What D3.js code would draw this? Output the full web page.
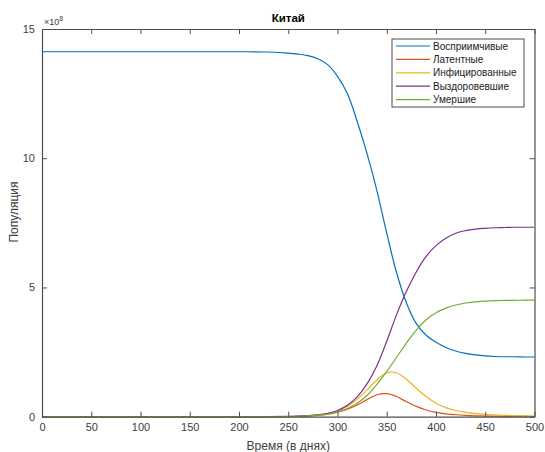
<!DOCTYPE html>
<html>
<head>
<meta charset="utf-8">
<script src="https://cdnjs.cloudflare.com/ajax/libs/d3/7.8.5/d3.min.js"></script>
<style>
  body { margin: 0; background: #fff; }
  text { font-family: "Liberation Sans", Arial, sans-serif; }
</style>
</head>
<body>
<script>
// days and values (x 1e8)
var days = [0, 50, 100, 150, 200, 230, 250, 260, 270, 280, 290, 300, 310, 320, 330, 340, 350, 360,
            370, 380, 390, 400, 410, 420, 430, 440, 450, 460, 470, 480, 490, 500];
var susceptible = [14.12, 14.12, 14.12, 14.12, 14.12, 14.11, 14.07, 14.03, 13.97, 13.85, 13.62, 13.17, 12.5, 11.42, 10.18, 8.75, 7.1, 5.57,
                   4.4, 3.6, 3.15, 2.88, 2.68, 2.54, 2.45, 2.39, 2.35, 2.33, 2.32, 2.32, 2.31, 2.31];
var latent = [0, 0, 0, 0, 0, 0.001, 0.005, 0.012, 0.025, 0.05, 0.1, 0.18, 0.29, 0.45, 0.66, 0.85, 0.89, 0.78,
              0.58, 0.4, 0.26, 0.17, 0.11, 0.075, 0.05, 0.035, 0.025, 0.02, 0.015, 0.012, 0.01, 0.008];
var infected = [0, 0, 0, 0, 0, 0.001, 0.005, 0.015, 0.03, 0.06, 0.12, 0.22, 0.4, 0.68, 1.04, 1.42, 1.7, 1.7,
                1.45, 1.1, 0.78, 0.52, 0.35, 0.24, 0.17, 0.12, 0.09, 0.07, 0.05, 0.04, 0.03, 0.025];
var recovered = [0, 0, 0, 0, 0, 0.003, 0.01, 0.022, 0.04, 0.07, 0.13, 0.24, 0.44, 0.77, 1.27, 1.97, 2.92, 3.95,
                 4.85, 5.6, 6.2, 6.62, 6.9, 7.1, 7.2, 7.26, 7.29, 7.31, 7.32, 7.33, 7.33, 7.33];
var dead = [0, 0, 0, 0, 0, 0.001, 0.005, 0.015, 0.03, 0.06, 0.1, 0.18, 0.32, 0.52, 0.82, 1.25, 1.75, 2.3,
            2.85, 3.35, 3.75, 4.02, 4.2, 4.32, 4.4, 4.44, 4.47, 4.49, 4.5, 4.5, 4.51, 4.51];

var seriesNames = ["Восприимчивые", "Латентные", "Инфицированные", "Выздоровевшие", "Умершие"];
var seriesColors = ["#0072BD", "#D95319", "#EDB120", "#7E2F8E", "#77AC30"];
var xTicks = [0, 50, 100, 150, 200, 250, 300, 350, 400, 450, 500];
var yTicks = [0, 5, 10, 15];

var w = 545, h = 452;
var margin = {top: 29, right: 10, bottom: 35, left: 42};
var iw = 534.5 - margin.left, ih = 416.7 - margin.top;

var svg = d3.select("body").append("svg")
  .attr("width", w).attr("height", h);

var x = d3.scaleLinear().domain([0, 500]).range([margin.left, margin.left + iw]);
var y = d3.scaleLinear().domain([0, 15]).range([margin.top + ih, margin.top]);

var axisColor = "#4d4d4d", textColor = "#404040";

// lines
var all = [susceptible, latent, infected, recovered, dead];
var line = d3.line()
  .x(function(d, i){ return x(days[i]); })
  .y(function(d){ return y(Math.max(0, d)); })
  .curve(d3.curveCatmullRom.alpha(0.5));

var plot = svg.append("g");
all.forEach(function(s, k){
  plot.append("path")
    .attr("d", line(s))
    .attr("fill", "none")
    .attr("stroke", seriesColors[k])
    .attr("stroke-width", 1.2);
});

// axes
var xa = svg.append("g").attr("transform", "translate(0," + y(0) + ")")
  .call(d3.axisBottom(x).tickValues(xTicks).tickSizeInner(-5).tickSizeOuter(0).tickPadding(7));
var xt = svg.append("g").attr("transform", "translate(0," + y(15) + ")")
  .call(d3.axisTop(x).tickValues(xTicks).tickSizeInner(-5).tickSizeOuter(0).tickFormat(""));
var ya = svg.append("g").attr("transform", "translate(" + x(0) + ",0)")
  .call(d3.axisLeft(y).tickValues(yTicks).tickSizeInner(-5).tickSizeOuter(0).tickPadding(7));
var yr = svg.append("g").attr("transform", "translate(" + x(500) + ",0)")
  .call(d3.axisRight(y).tickValues(yTicks).tickSizeInner(-5).tickSizeOuter(0).tickFormat(""));

[xa, xt, ya, yr].forEach(function(g){
  g.select(".domain").attr("stroke", axisColor).attr("stroke-width", 1.2);
  g.selectAll(".tick line").attr("stroke", axisColor);
  g.selectAll(".tick text").attr("fill", textColor)
    .style("font-family", "'Liberation Sans', Arial, sans-serif").style("font-size", "11px");
});

// exponent label
var ex = svg.append("text").attr("x", x(0) + 2).attr("y", y(15) - 4)
  .attr("fill", textColor).style("font-size", "9px");
ex.append("tspan").text("×10");
ex.append("tspan").attr("dy", -4).style("font-size", "7px").text("8");

// title
svg.append("text").attr("x", x(250)).attr("y", 22)
  .attr("text-anchor", "middle").attr("fill", "#000")
  .style("font-size", "11.5px").style("font-weight", "bold").text("Китай");

// axis labels
svg.append("text").attr("x", x(250)).attr("y", 450)
  .attr("text-anchor", "middle").attr("fill", textColor)
  .style("font-size", "12px").text("Время (в днях)");
svg.append("text").attr("transform", "translate(18," + 212 + ") rotate(-90)")
  .attr("text-anchor", "middle").attr("fill", textColor)
  .style("font-size", "12px").text("Популяция");

// legend
var lg = svg.append("g").attr("transform", "translate(392,39)");
lg.append("rect").attr("width", 132).attr("height", 68)
  .attr("fill", "#fff").attr("stroke", axisColor).attr("stroke-width", 1);
seriesNames.forEach(function(name, k){
  var yy = 7 + k * 13.4;
  lg.append("line").attr("x1", 4).attr("x2", 38).attr("y1", yy).attr("y2", yy)
    .attr("stroke", seriesColors[k]).attr("stroke-width", 1.2);
  lg.append("text").attr("x", 41).attr("y", yy + 3.5)
    .attr("fill", "#222").style("font-size", "10px").text(name);
});
</script>
</body>
</html>
